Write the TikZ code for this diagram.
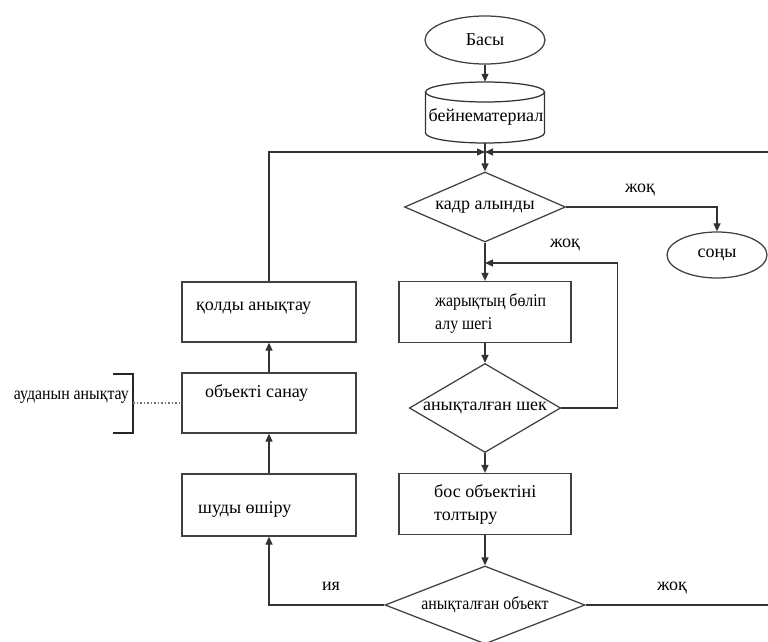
\documentclass[tikz,border=0pt]{standalone}
\usepackage{fontspec}
\setmainfont{Liberation Serif}
\usetikzlibrary{shapes.geometric,arrows.meta}
% horizontally condensed text
\newcommand{\cnd}[1]{\scalebox{0.88}[1]{#1}}
\begin{document}
\begin{tikzpicture}[x=1pt,y=-1pt,
  line/.style={draw=black!80, line width=1.25pt},
  flow/.style={line, -{Triangle[length=8pt,width=7pt]}},
  box/.style={draw=black!75, line width=1.25pt, rectangle, minimum width=172pt, minimum height=61pt, inner sep=0pt},
  dec/.style={draw=black!75, line width=1.25pt, diamond, inner sep=0pt, aspect=2.3, font=\fontsize{18}{23}\selectfont},
  term/.style={draw=black!75, line width=1.25pt, ellipse, inner sep=0pt, font=\fontsize{18}{23}\selectfont},
  txt/.style={font=\fontsize{18}{23}\selectfont, inner sep=0pt, align=left},
  note/.style={font=\fontsize{18}{23}\selectfont, inner sep=0pt}
]
\useasboundingbox (0,0) rectangle (768,642);

% start and video source
\node[term, minimum width=120pt, minimum height=48pt] (start) at (485,40) {Басы};
\node[minimum width=119pt, minimum height=61pt, inner sep=0pt] (cyl) at (485,112.5) {};
\draw[line] (425.5,92) -- (425.5,133) arc[start angle=180, end angle=360, x radius=59.5pt, y radius=10pt] -- (544.5,92);
\draw[line] (485,92) ellipse[x radius=59.5pt, y radius=10pt];
\node[txt] at (486,117) {бейнематериал};

% main column
\node[dec, minimum width=161pt, minimum height=70pt] (kadr) at (485,207) {кадр алынды};
\node[term, minimum width=100pt, minimum height=46pt] (end) at (717,255) {соңы};
\node[box] (thr) at (485,312) {};
\node[txt, anchor=west] at (435,313) {\cnd{жарықтың бөліп}\\\cnd{алу шегі}};
\node[dec, minimum width=151pt, minimum height=89pt] (sek) at (485,408) {анықталған шек};
\node[box] (fill) at (485,504) {};
\node[txt, anchor=west] at (434,504) {бос объектіні\\толтыру};
\node[dec, minimum width=200pt, minimum height=78pt] (obj) at (485,605) {\cnd{анықталған объект}};

% left column
\node[box, minimum width=174pt, minimum height=60pt] (hand) at (269,312) {};
\node[txt, anchor=west] at (196,308) {қолды анықтау};
\node[box, minimum width=174pt, minimum height=60pt] (count) at (269,403) {};
\node[txt, anchor=west] at (205,393) {объекті санау};
\node[box, minimum width=174pt, minimum height=62pt] (noise) at (269,505) {};
\node[txt, anchor=west] at (198,509) {шуды өшіру};

% annotation
\node[note, anchor=east] (area) at (129,397) {\cnd{ауданын анықтау}};
\draw[draw=black!85, line width=2.2pt] (113,374) -- (133,374) -- (133,433) -- (113,433);
\coordinate (br) at (133,403);
\draw[draw=black!55, line width=1.3pt, dash pattern=on 1.5pt off 2pt] (br) -- (count.west);

% connectors
\coordinate (j) at (485,152);
\coordinate (lj) at (485,263);
\coordinate (re) at (769,0);
\draw[flow] (start) -- (cyl.north);
\draw[flow] (cyl.south) -- (kadr.north);
\draw[flow] (hand.north) |- (j);
\draw[flow] (obj.east) -- (obj.east -| re) |- (j);
\draw[flow] (kadr.east) -| (end.north);
\draw[flow] (kadr.south) -- (thr.north);
\draw[flow] (sek.east) -- ++(56,0) |- (lj);
\draw[flow] (thr.south) -- (sek.north);
\draw[flow] (sek.south) -- (fill.north);
\draw[flow] (fill.south) -- (obj.north);
\draw[flow] (obj.west) -| (noise.south);
\draw[flow] (noise.north) -- (count.south);
\draw[flow] (count.north) -- (hand.south);

% branch labels
\node[note] at (640,190) {жоқ};
\node[note] at (565,245) {жоқ};
\node[note] at (331,586) {ия};
\node[note] at (672,588) {жоқ};
\end{tikzpicture}
\end{document}
